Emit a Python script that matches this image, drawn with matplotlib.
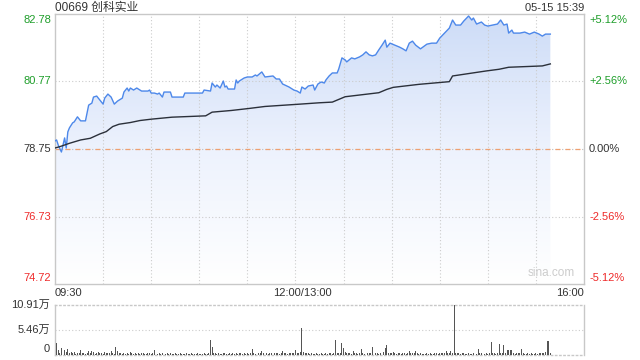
import numpy as np
import matplotlib
matplotlib.use("Agg")
import matplotlib.pyplot as plt
from matplotlib.colors import LinearSegmentedColormap
from matplotlib.patches import Polygon

plt.rcParams['font.family'] = ['Liberation Sans', 'Noto Sans CJK SC', 'DejaVu Sans']

title = "00669 创科实业"
stamp = "05-15 15:39"
prev_close = 78.75
price_ticks = [82.78, 80.77, 78.75, 76.73, 74.72]
pct_labels = ["+5.12%", "+2.56%", "0.00%", "-2.56%", "-5.12%"]
vol_ticks = [10.91, 5.46, 0]
vol_labels = ["10.91万", "5.46万", "0"]
time_labels = ["09:30", "12:00/13:00", "16:00"]
time_label_minutes = [0, 150, 330]

# trading minutes since 09:30 (lunch break removed) and last price
price_minutes = [0, 1, 2, 4, 6, 7, 8, 9, 11, 12, 14, 16, 19, 21, 23, 24, 26, 28, 30, 31,
                 33, 35, 37, 39, 42, 43, 45, 46, 47, 49, 51, 54, 58, 59, 60, 62, 64, 65, 67, 68,
                 72, 73, 80, 81, 92, 93, 97, 98, 100, 101, 103, 105, 106, 107, 108, 112, 113, 114, 115, 118,
                 120, 123, 125, 126, 129, 131, 136, 138, 140, 142, 146, 149, 151, 153, 154, 156, 158, 161, 162, 164,
                 166, 168, 169, 171, 173, 176, 177, 179, 181, 182, 185, 187, 190, 192, 194, 196, 198, 200, 202, 204,
                 206, 207, 209, 212, 215, 217, 219, 221, 223, 225, 228, 232, 235, 238, 240, 243, 246, 248, 250, 253,
                 255, 258, 260, 261, 263, 266, 268, 270, 273, 276, 278, 280, 282, 283, 285, 286, 290, 293, 296, 299,
                 302, 304, 306, 309]
prices = [78.99, 79.02, 78.87, 78.66, 79.08, 78.78, 79.26, 79.38, 79.53, 79.56, 79.71, 79.59, 79.59, 80.06, 80.12, 80.30, 80.33, 80.21, 80.09, 80.27,
          80.39, 80.30, 80.09, 80.18, 80.27, 80.45, 80.57, 80.48, 80.57, 80.51, 80.57, 80.48, 80.48, 80.51, 80.42, 80.42, 80.39, 80.42, 80.30, 80.45,
          80.45, 80.30, 80.30, 80.42, 80.42, 80.51, 80.48, 80.72, 80.60, 80.66, 80.57, 80.78, 80.60, 80.63, 80.54, 80.54, 80.81, 80.72, 80.78, 80.87,
          80.90, 80.90, 80.96, 80.93, 81.05, 80.90, 80.93, 80.84, 80.84, 80.69, 80.60, 80.51, 80.48, 80.42, 80.60, 80.54, 80.63, 80.66, 80.51, 80.69,
          80.75, 80.72, 80.81, 80.93, 81.02, 81.02, 81.14, 81.47, 81.41, 81.35, 81.47, 81.44, 81.50, 81.56, 81.65, 81.56, 81.53, 81.56, 81.71, 81.85,
          82.00, 81.79, 81.91, 81.85, 81.79, 81.74, 81.68, 81.91, 81.97, 81.85, 81.74, 81.88, 81.91, 81.91, 82.06, 82.21, 82.36, 82.60, 82.45, 82.45,
          82.57, 82.72, 82.60, 82.66, 82.48, 82.54, 82.45, 82.42, 82.45, 82.48, 82.60, 82.45, 82.48, 82.21, 82.30, 82.21, 82.21, 82.24, 82.18, 82.24,
          82.18, 82.12, 82.18, 82.18]

avg_minutes = [0, 3, 9, 16, 22, 28, 32, 36, 40, 47, 53, 60, 73, 94, 98, 110, 121, 131, 153, 165,
               173, 177, 181, 202, 207, 211, 227, 246, 248, 269, 277, 283, 304, 309]
avg_prices = [78.78, 78.82, 78.92, 79.02, 79.07, 79.20, 79.27, 79.42, 79.49, 79.54, 79.60, 79.64, 79.70, 79.74, 79.85, 79.90, 79.96, 80.02, 80.09, 80.13,
              80.15, 80.23, 80.31, 80.43, 80.53, 80.59, 80.68, 80.76, 80.93, 81.08, 81.13, 81.19, 81.23, 81.29]

# volume per minute (万)
volumes = [3.27, 2.55, 1.00, 0.45, 1.46, 0.40, 1.20, 0.60, 1.24, 0.50,
           0.70, 0.35, 0.55, 0.30, 0.45, 0.40, 1.00, 0.35, 0.50, 0.30,
           0.45, 0.90, 0.40, 0.90, 0.55, 0.30, 0.45, 0.60, 0.35, 0.40,
           0.30, 0.55, 0.40, 0.35, 0.50, 0.90, 0.40, 0.30, 1.82, 0.80,
           0.50, 0.35, 0.30, 0.45, 0.25, 0.40, 0.30, 0.55, 0.35, 0.30,
           0.40, 0.30, 0.50, 0.25, 0.35, 0.45, 0.30, 0.25, 0.40, 0.35,
           0.30, 0.45, 1.00, 0.50, 0.30, 0.35, 0.25, 0.40, 0.30, 0.25,
           0.35, 0.30, 0.45, 0.25, 0.30, 0.40, 0.25, 0.30, 0.35, 0.25,
           0.30, 0.25, 0.40, 0.30, 0.25, 0.35, 0.20, 0.30, 0.25, 0.35,
           0.30, 0.25, 0.20, 0.35, 0.30, 0.25, 0.40, 3.27, 1.80, 0.45,
           0.35, 0.30, 0.40, 0.25, 0.30, 0.45, 0.35, 0.30, 0.25, 0.40,
           0.30, 0.35, 0.25, 0.45, 0.30, 0.50, 0.35, 0.30, 0.40, 0.25,
           0.35, 0.30, 0.45, 1.24, 0.40, 0.30, 0.50, 0.35, 0.45, 0.90,
           0.40, 0.55, 0.35, 0.30, 0.45, 0.35, 0.30, 0.40, 0.50, 0.35,
           0.30, 0.45, 0.90, 0.40, 0.35, 0.30, 0.45, 0.35, 0.50, 0.40,
           1.00, 0.45, 0.40, 0.55, 5.96, 0.60, 0.45, 0.35, 0.40, 0.30,
           0.35, 0.25, 0.30, 0.40, 0.25, 0.30, 0.35, 0.25, 0.30, 0.40,
           0.30, 0.35, 0.40, 0.30, 0.45, 3.27, 0.50, 0.40, 0.35, 2.55,
           1.46, 0.55, 0.40, 0.35, 0.45, 0.30, 0.90, 0.40, 0.35, 0.30,
           0.40, 1.24, 0.35, 0.30, 0.45, 0.40, 0.35, 0.50, 1.82, 0.45,
           0.40, 0.35, 0.30, 0.45, 2.33, 0.55, 1.46, 2.18, 0.45, 0.40,
           0.35, 0.60, 0.40, 0.30, 0.45, 0.35, 0.30, 0.40, 0.35, 0.30,
           0.45, 0.90, 0.40, 0.35, 0.45, 0.90, 0.40, 0.30, 0.35, 0.25,
           0.30, 0.25, 0.35, 0.30, 0.40, 0.25, 0.30, 0.45, 0.35, 0.30,
           0.40, 0.35, 0.45, 0.40, 0.90, 0.50, 0.40, 0.90, 0.45, 10.91,
           0.45, 0.40, 0.35, 0.30, 0.40, 0.35, 0.25, 0.30, 0.35, 0.25,
           0.30, 0.40, 0.35, 0.30, 1.24, 0.45, 0.35, 0.30, 0.25, 0.35,
           0.30, 0.40, 2.84, 0.45, 0.35, 0.30, 0.45, 2.33, 0.50, 0.40,
           2.11, 0.45, 1.00, 1.00, 1.00, 1.10, 0.40, 0.30, 0.35, 0.45,
           0.35, 1.24, 0.40, 0.30, 0.25, 0.35, 0.30, 0.40, 0.25, 0.30,
           0.35, 0.30, 0.40, 0.35, 0.45, 0.50, 0.60, 3.05, 3.05, 0.40]
vol_minutes = np.arange(len(volumes))

GREEN = "#1e9e2a"
RED = "#ee2a2a"
DARK = "#333333"
GRID = "#cccccc"
BORDER = "#c8c8c8"
FS = 8

W, H = 640, 360
fig = plt.figure(figsize=(W / 100, H / 100), dpi=100)
ax = fig.add_axes([55 / W, 1 - 284 / H, 529 / W, 270 / H])
axv = fig.add_axes([55 / W, 1 - 355 / H, 529 / W, 50 / H])

ymin, ymax = price_ticks[-1], price_ticks[0]
ax.set_xlim(0, 330)
ax.set_ylim(ymin, ymax)

# gradient fill under price line
grad = np.linspace(0, 1, 256).reshape(-1, 1)
cmap = LinearSegmentedColormap.from_list("g", ["#ffffff", "#edf2fd", "#cddcf7"])
im = ax.imshow(grad, extent=[0, 330, ymin, ymax], origin="lower", aspect="auto",
               cmap=cmap, zorder=1, interpolation="bilinear")
verts = np.vstack([[price_minutes[0], ymin],
                   np.column_stack([price_minutes, prices]),
                   [price_minutes[-1], ymin]])
clip = Polygon(verts, closed=True, transform=ax.transData, facecolor="none", edgecolor="none")
ax.add_patch(clip)
im.set_clip_path(clip)

# grid
for v in [price_ticks[1], price_ticks[3]]:
    ax.axhline(v, color=GRID, lw=0.8, ls=(0, (1, 2)), zorder=2)
ax.axhline(prev_close, color="#bbbbbb", lw=0.8, ls=(0, (1, 2)), zorder=2)
ax.axhline(prev_close, color="#f0a070", lw=0.9, ls=(0, (4, 4)), zorder=2)
for k in range(1, 11):
    ax.axvline(k * 30, color=GRID, lw=0.8, ls=(0, (1, 2)), zorder=2)

ax.plot(price_minutes, prices, color="#4d88ea", lw=1.0, zorder=4)
ax.plot(avg_minutes, avg_prices, color="#2b303a", lw=1.0, zorder=4)

ax.set_xticks([])
ax.set_yticks([])
for s in ax.spines.values():
    s.set_color(BORDER)
    s.set_linewidth(1.0)

# left price labels and right pct labels
colors = [GREEN, GREEN, DARK, RED, RED]
offsets = [-6, 0, 0, 0, 6]
for v, lab, c, dy in zip(price_ticks, pct_labels, colors, offsets):
    ax.annotate(f"{v:.2f}", xy=(0, v), xycoords=("axes fraction", "data"),
                xytext=(-4, dy), textcoords="offset pixels", ha="right", va="center",
                color=c, fontsize=FS)
    ax.annotate(lab, xy=(1, v), xycoords=("axes fraction", "data"),
                xytext=(5, dy), textcoords="offset pixels", ha="left", va="center",
                color=c, fontsize=FS)

# time labels
has = ["left", "center", "right"]
for m, lab, ha in zip(time_label_minutes, time_labels, has):
    ax.annotate(lab, xy=(m, 0), xycoords=("data", "axes fraction"),
                xytext=(7 if ha == "center" else 0, -9), textcoords="offset pixels",
                ha=ha, va="center", color=DARK, fontsize=FS)

# header
fig.text(55 / W, 1 - 8 / H, title, ha="left", va="center", fontsize=8.5, color=DARK)
fig.text(584 / W, 1 - 8 / H, stamp, ha="right", va="center", fontsize=FS, color=DARK)
ax.text(0.983, 0.02, "sina.com", transform=ax.transAxes, ha="right", va="bottom",
        fontsize=8.5, color="#cccccc", zorder=3)

# volume
axv.set_xlim(0, 330)
axv.set_ylim(0, vol_ticks[0])
axv.bar(vol_minutes, volumes, width=0.6, color="#555555", linewidth=0, zorder=3)
axv.axhline(vol_ticks[1], color=GRID, lw=0.8, ls=(0, (1, 2)), zorder=1)
axv.set_xticks([])
axv.set_yticks([])
for name, s in axv.spines.items():
    s.set_color(BORDER)
    s.set_linewidth(1.0)
axv.spines["top"].set_linestyle((0, (1, 2)))
axv.spines["bottom"].set_linestyle((0, (1, 2)))
voffs = [0, 0, 6]
for v, lab, dy in zip(vol_ticks, vol_labels, voffs):
    axv.annotate(lab, xy=(0, v), xycoords=("axes fraction", "data"),
                 xytext=(-5, dy), textcoords="offset pixels", ha="right", va="center",
                 color=DARK, fontsize=FS)

fig.savefig("out.png", dpi=100)
